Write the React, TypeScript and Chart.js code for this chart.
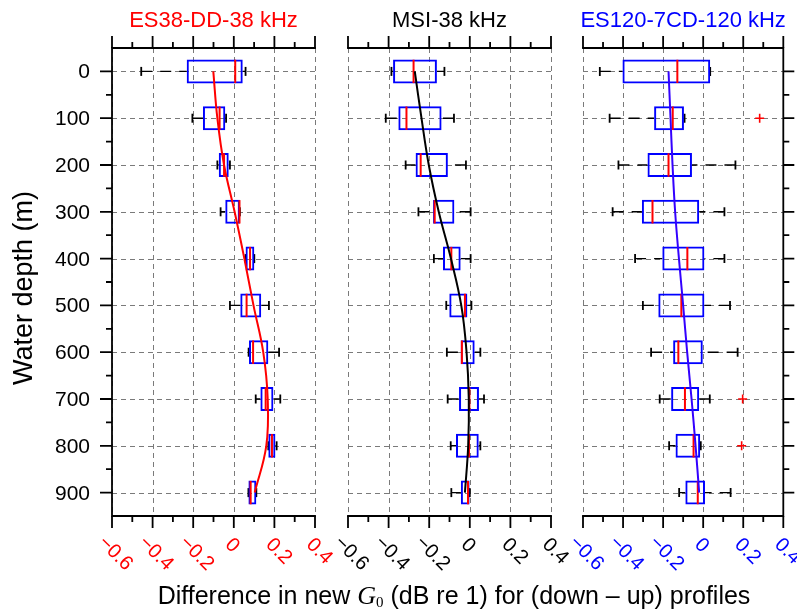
import React, { useEffect, useRef } from 'react';
import { Chart, registerables } from 'chart.js';

Chart.register(...registerables);

// ---------- data ----------
const depths = [0, 100, 200, 300, 400, 500, 600, 700, 800, 900];
const yTickLabels = ['0', '100', '200', '300', '400', '500', '600', '700', '800', '900'];
const yMinorValues = [50, 150, 250, 350, 450, 550, 650, 750, 850];
const xTickValues = [-0.6, -0.4, -0.2, 0, 0.2, 0.4];
const xTickLabels = ['−0.6', '−0.4', '−0.2', '0', '0.2', '0.4'];
const xMinorValues = [-0.5, -0.3, -0.1, 0.1, 0.3];

// ES38-DD-38 kHz
const es38Lo = [-0.456, -0.204, -0.081, -0.065, 0.058, -0.019, 0.073, 0.108, 0.17, 0.072];
const es38Q1 = [-0.232, -0.152, -0.074, -0.042, 0.058, 0.032, 0.075, 0.131, 0.17, 0.072];
const es38Med = [0.007, -0.07, -0.048, 0.028, 0.08, 0.063, 0.095, 0.157, 0.188, 0.083];
const es38Q3 = [0.044, -0.042, -0.025, 0.03, 0.101, 0.135, 0.17, 0.195, 0.205, 0.111];
const es38Hi = [0.058, -0.038, -0.019, 0.03, 0.101, 0.173, 0.223, 0.229, 0.211, 0.111];
const es38Fit = [-0.101, -0.081, -0.048, 0.004, 0.052, 0.097, 0.145, 0.167, 0.16, 0.103];

// MSI-38 kHz
const msiLo = [-0.386, -0.414, -0.316, -0.253, -0.177, -0.116, -0.113, -0.109, -0.094, -0.091];
const msiQ1 = [-0.378, -0.352, -0.267, -0.181, -0.132, -0.101, -0.045, -0.053, -0.068, -0.044];
const msiMed = [-0.277, -0.312, -0.242, -0.173, -0.091, -0.024, -0.039, -0.002, -0.004, -0.009];
const msiQ3 = [-0.162, -0.139, -0.108, -0.076, -0.045, -0.012, 0.024, 0.045, 0.044, -0.001];
const msiHi = [-0.125, -0.078, -0.019, 0.004, 0.004, 0.008, 0.052, 0.07, 0.052, 0.0];
const msiFit = [-0.271, -0.238, -0.202, -0.153, -0.093, -0.042, -0.016, -0.005, -0.008, -0.024];

// ES120-7CD-120 kHz
const es120Lo = [-0.516, -0.467, -0.423, -0.452, -0.34, -0.301, -0.26, -0.217, -0.17, -0.12];
const es120Q1 = [-0.403, -0.245, -0.278, -0.306, -0.204, -0.224, -0.15, -0.16, -0.138, -0.089];
const es120Med = [-0.129, -0.152, -0.173, -0.253, -0.079, -0.109, -0.124, -0.091, -0.048, -0.027];
const es120Q3 = [0.035, -0.096, -0.056, -0.02, 0.006, 0.006, -0.002, -0.02, -0.015, 0.009];
const es120Hi = [0.035, -0.093, 0.161, 0.106, 0.106, 0.134, 0.172, 0.033, -0.012, 0.137];
const es120Fit = [-0.173, -0.163, -0.153, -0.14, -0.121, -0.1, -0.08, -0.058, -0.038, -0.02];
const es120OutDepth = [100, 700, 800];
const es120OutVal = [0.282, 0.197, 0.192];

// ---------- styling / layout ----------
const W = 797;
const H = 613;
const TOP = 48;
const BOTTOM = 516;
const SANS = "'Liberation Sans', Arial, Helvetica, sans-serif";
const SERIF = "'Liberation Serif', 'Times New Roman', serif";

type PanelCfg = {
  key: string;
  left: number;
  right: number;
  title: string;
  color: string;
  fitColor: string;
  leftAxis: boolean;
  rightAxis: boolean;
  global: boolean;
  lo: number[];
  q1: number[];
  med: number[];
  q3: number[];
  hi: number[];
  fit: number[];
  outD: number[];
  outV: number[];
};

const panels: PanelCfg[] = [
  {
    key: 'p1', left: 112, right: 315, title: 'ES38-DD-38 kHz', color: '#ff0000', fitColor: '#ff0000',
    leftAxis: true, rightAxis: false, global: true,
    lo: es38Lo, q1: es38Q1, med: es38Med, q3: es38Q3, hi: es38Hi, fit: es38Fit, outD: [], outV: [],
  },
  {
    key: 'p2', left: 348, right: 551, title: 'MSI-38 kHz', color: '#000000', fitColor: '#000000',
    leftAxis: false, rightAxis: false, global: false,
    lo: msiLo, q1: msiQ1, med: msiMed, q3: msiQ3, hi: msiHi, fit: msiFit, outD: [], outV: [],
  },
  {
    key: 'p3', left: 583, right: 786, title: 'ES120-7CD-120 kHz', color: '#0000ff', fitColor: '#3300ff',
    leftAxis: false, rightAxis: true, global: false,
    lo: es120Lo, q1: es120Q1, med: es120Med, q3: es120Q3, hi: es120Hi, fit: es120Fit,
    outD: es120OutDepth, outV: es120OutVal,
  },
];

function makeDeco(p: PanelCfg) {
  return {
    id: 'deco_' + p.key,
    beforeDatasetsDraw(chart: any) {
      const { ctx, chartArea: a } = chart;
      const xs = chart.scales.x;
      const ys = chart.scales.y;
      ctx.save();
      ctx.strokeStyle = '#7a7a7a';
      ctx.lineWidth = 1;
      ctx.setLineDash([5, 4]);
      ctx.beginPath();
      for (const v of xTickValues) {
        const px = Math.round(xs.getPixelForValue(v)) + 0.5;
        ctx.moveTo(px, a.top);
        ctx.lineTo(px, a.bottom);
      }
      for (const d of depths) {
        const py = Math.round(ys.getPixelForValue(d)) + 0.5;
        ctx.moveTo(a.left, py);
        ctx.lineTo(a.right, py);
      }
      ctx.stroke();
      ctx.restore();
    },
    afterDatasetsDraw(chart: any) {
      const { ctx, chartArea: a } = chart;
      const xs = chart.scales.x;
      const ys = chart.scales.y;
      ctx.save();
      ctx.setLineDash([]);
      ctx.strokeStyle = '#000';
      ctx.lineWidth = 1.8;
      ctx.lineCap = 'square';
      ctx.beginPath();
      ctx.moveTo(a.left, a.top);
      ctx.lineTo(a.right, a.top);
      ctx.moveTo(a.left, a.bottom);
      ctx.lineTo(a.right, a.bottom);
      if (p.leftAxis) {
        ctx.moveTo(a.left, a.top);
        ctx.lineTo(a.left, a.bottom);
      }
      if (p.rightAxis) {
        ctx.moveTo(a.right, a.top);
        ctx.lineTo(a.right, a.bottom);
      }
      ctx.stroke();
      ctx.lineCap = 'butt';
      ctx.beginPath();
      for (const v of xTickValues) {
        const px = xs.getPixelForValue(v);
        ctx.moveTo(px, a.top);
        ctx.lineTo(px, a.top - 12);
        ctx.moveTo(px, a.bottom);
        ctx.lineTo(px, a.bottom + 12);
      }
      for (const v of xMinorValues) {
        const px = xs.getPixelForValue(v);
        ctx.moveTo(px, a.top);
        ctx.lineTo(px, a.top - 6);
        ctx.moveTo(px, a.bottom);
        ctx.lineTo(px, a.bottom + 6);
      }
      if (p.leftAxis) {
        for (const d of depths) {
          const py = ys.getPixelForValue(d);
          ctx.moveTo(a.left, py);
          ctx.lineTo(a.left - 12, py);
        }
        for (const d of yMinorValues) {
          const py = ys.getPixelForValue(d);
          ctx.moveTo(a.left, py);
          ctx.lineTo(a.left - 6, py);
        }
      }
      if (p.rightAxis) {
        for (const d of depths) {
          const py = ys.getPixelForValue(d);
          ctx.moveTo(a.right, py);
          ctx.lineTo(a.right + 11, py);
        }
        for (const d of yMinorValues) {
          const py = ys.getPixelForValue(d);
          ctx.moveTo(a.right, py);
          ctx.lineTo(a.right + 6, py);
        }
      }
      ctx.stroke();

      // x tick labels (rotated)
      ctx.fillStyle = p.color;
      ctx.font = `20px ${SANS}`;
      ctx.textAlign = 'left';
      ctx.textBaseline = 'alphabetic';
      xTickValues.forEach((v, i) => {
        const px = xs.getPixelForValue(v);
        const neg = v < 0;
        ctx.save();
        ctx.translate(px - 9.5 - (neg ? 5 : 0), 545.5 - (neg ? 2 : 0));
        ctx.rotate(Math.PI / 4);
        ctx.fillText(xTickLabels[i], 0, 0);
        ctx.restore();
      });

      // y tick labels
      if (p.leftAxis) {
        ctx.fillStyle = '#000';
        ctx.font = `21px ${SANS}`;
        ctx.textAlign = 'right';
        ctx.textBaseline = 'middle';
        depths.forEach((d, i) => {
          ctx.fillText(yTickLabels[i], a.left - 22, ys.getPixelForValue(d) + 1.3);
        });
      }

      // panel title
      ctx.fillStyle = p.color;
      ctx.font = `22px ${SANS}`;
      ctx.textAlign = 'center';
      ctx.textBaseline = 'alphabetic';
      ctx.fillText(p.title, (a.left + a.right) / 2, 27);

      if (p.global) {
        // y axis title
        ctx.save();
        ctx.fillStyle = '#000';
        ctx.font = `27px ${SANS}`;
        ctx.translate(32, 288);
        ctx.rotate(-Math.PI / 2);
        ctx.textAlign = 'center';
        ctx.textBaseline = 'alphabetic';
        ctx.fillText('Water depth (m)', 0, 0);
        ctx.restore();

        // x axis title with italic G and subscript 0
        const s1 = 'Difference in new ';
        const s2 = ' (dB re 1) for (down – up) profiles';
        const fMain = `25px ${SANS}`;
        const fG = `italic 26px ${SERIF}`;
        const fSub = `15px ${SERIF}`;
        ctx.font = fMain;
        const w1 = ctx.measureText(s1).width;
        const w2 = ctx.measureText(s2).width;
        ctx.font = fG;
        const wG = ctx.measureText('G').width;
        ctx.font = fSub;
        const w0 = ctx.measureText('0').width;
        const total = w1 + wG + w0 + w2;
        let cx = 454 - total / 2;
        const base = 604;
        ctx.fillStyle = '#000';
        ctx.textAlign = 'left';
        ctx.font = fMain;
        ctx.fillText(s1, cx, base);
        cx += w1;
        ctx.font = fG;
        ctx.fillText('G', cx, base);
        cx += wG;
        ctx.font = fSub;
        ctx.fillText('0', cx, base + 2.5);
        cx += w0;
        ctx.font = fMain;
        ctx.fillText(s2, cx, base);
      }
      ctx.restore();
    },
  };
}

function buildConfig(p: PanelCfg): any {
  const whiskers: any[] = [];
  const caps: any[] = [];
  const medians: any[] = [];
  const boxes: any[] = [];
  const fitPts: any[] = [];
  depths.forEach((d, i) => {
    whiskers.push({ x: p.lo[i], y: d }, { x: p.q1[i], y: d }, { x: NaN, y: NaN });
    whiskers.push({ x: p.hi[i], y: d }, { x: p.q3[i], y: d }, { x: NaN, y: NaN });
    caps.push({ x: p.lo[i], y: d }, { x: p.hi[i], y: d });
    medians.push({ x: p.med[i], y: d });
    boxes.push({ x: [p.q1[i], p.q3[i]], y: d });
    fitPts.push({ x: p.fit[i], y: d });
  });
  const outliers = p.outD.map((d, i) => ({ x: p.outV[i], y: d }));

  return {
    type: 'scatter',
    data: {
      datasets: [
        {
          type: 'line', data: fitPts, borderColor: p.fitColor, borderWidth: 2,
          pointRadius: 0, tension: 0.4, fill: false, order: 0,
        },
        {
          type: 'scatter', data: outliers, pointStyle: 'cross', pointRadius: 4.5,
          pointBorderColor: '#ff0000', pointBorderWidth: 1.6, pointBackgroundColor: '#ff0000', order: 1,
        },
        {
          type: 'scatter', data: medians, pointStyle: 'line', pointRadius: 11.7, pointRotation: 90,
          pointBorderColor: '#ff0000', pointBorderWidth: 2, order: 2,
        },
        {
          type: 'bar', indexAxis: 'y', data: boxes, barThickness: 24,
          borderColor: '#0000ff', borderWidth: 2, backgroundColor: 'rgba(0,0,0,0)',
          borderSkipped: false, inflateAmount: 0, order: 3,
        },
        {
          type: 'scatter', data: caps, pointStyle: 'line', pointRadius: 4.5, pointRotation: 90,
          pointBorderColor: '#000000', pointBorderWidth: 1.8, order: 4,
        },
        {
          type: 'line', data: whiskers, borderColor: '#000000', borderWidth: 1.4,
          borderDash: [11, 8], pointRadius: 0, tension: 0, spanGaps: false, fill: false, order: 5,
        },
      ],
    },
    options: {
      responsive: false,
      maintainAspectRatio: false,
      animation: false,
      devicePixelRatio: 1,
      events: [],
      layout: { padding: { left: p.left, right: W - p.right, top: TOP, bottom: H - BOTTOM } },
      scales: {
        x: {
          type: 'linear', min: -0.6, max: 0.4, display: false, offset: false,
          beginAtZero: false, grace: 0, grid: { offset: false },
        },
        y: {
          type: 'linear', min: -50, max: 950, reverse: true, display: false, offset: false,
          beginAtZero: false, grace: 0, grid: { offset: false },
        },
      },
      plugins: { legend: { display: false }, tooltip: { enabled: false }, title: { display: false } },
    },
    plugins: [makeDeco(p)],
  };
}

function Panel({ cfg }: { cfg: PanelCfg }) {
  const ref = useRef<HTMLCanvasElement | null>(null);
  useEffect(() => {
    if (!ref.current) return;
    const chart = new Chart(ref.current, buildConfig(cfg));
    return () => chart.destroy();
  }, [cfg]);
  return (
    <canvas
      ref={ref}
      width={W}
      height={H}
      style={{ position: 'absolute', left: 0, top: 0, width: W, height: H, display: 'block' }}
    />
  );
}

export default function App() {
  return (
    <div style={{ position: 'absolute', left: 0, top: 0, width: W, height: H, background: '#ffffff', overflow: 'hidden' }}>
      {panels.map((p) => (
        <Panel key={p.key} cfg={p} />
      ))}
    </div>
  );
}
